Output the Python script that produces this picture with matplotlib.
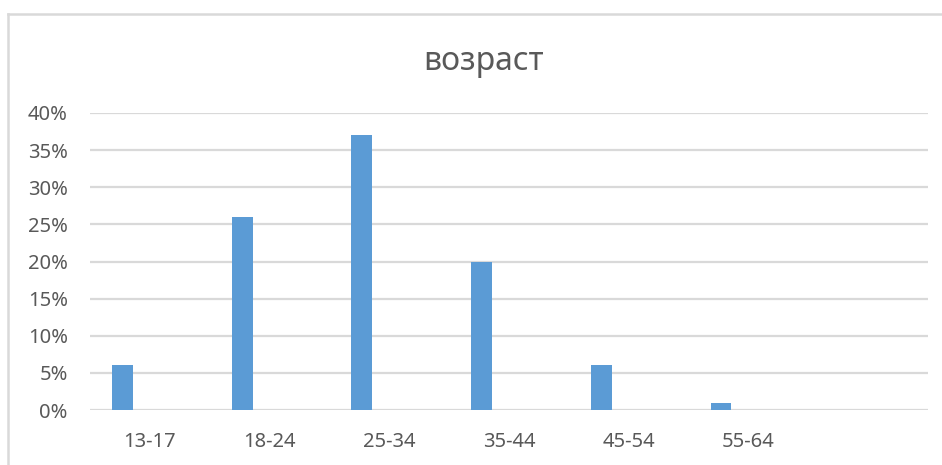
import matplotlib
matplotlib.use('Agg')
import matplotlib.pyplot as plt
from matplotlib.lines import Line2D
from matplotlib.ticker import PercentFormatter

plt.rcParams['font.family'] = ['Noto Sans', 'DejaVu Sans']

# возрастные группы (последняя ячейка пустая)
groups = ['13-17', '18-24', '25-34', '35-44', '45-54', '55-64', '']
shares = [0.06, 0.26, 0.37, 0.20, 0.06, 0.01, 0.0]
yticks = [0.0, 0.05, 0.10, 0.15, 0.20, 0.25, 0.30, 0.35, 0.40]

text_color = '#595959'
grid_color = '#d9d9d9'
bar_color = '#5b9bd5'

fig = plt.figure(figsize=(9.42, 4.65), dpi=100)
ax = fig.add_axes([90 / 942, 1 - 410 / 465, (928 - 90) / 942, (410 - 113) / 465])

x = list(range(len(groups)))
bar_x = [i - 0.229 for i in x]
ax.bar(bar_x[:6], shares[:6], width=0.175, color=bar_color, zorder=3)

ax.set_xlim(-0.5, len(groups) - 0.5)
ax.set_ylim(0, 0.40)
ax.set_yticks(yticks)
ax.yaxis.set_major_formatter(PercentFormatter(1.0, decimals=0))
ax.set_xticks(x)
ax.set_xticklabels(groups)

ax.grid(axis='y', color=grid_color, linewidth=1.6, zorder=0)
for s in ax.spines.values():
    s.set_visible(False)
ax.tick_params(axis='both', length=0, labelsize=14.5, colors=text_color)
ax.tick_params(axis='y', pad=16)
ax.tick_params(axis='x', pad=16)

fig.text(483 / 942, 1 - 70 / 465, 'возраст', ha='center', va='baseline',
         fontsize=23, color=text_color)

# рамка области диаграммы
fig.add_artist(Line2D([8 / 942, 8 / 942], [0, 1 - 14 / 465], color=grid_color,
                      linewidth=1.8, transform=fig.transFigure))
fig.add_artist(Line2D([8 / 942, 1], [1 - 14 / 465, 1 - 14 / 465], color=grid_color,
                      linewidth=1.8, transform=fig.transFigure))

fig.savefig('out.png', dpi=100)
